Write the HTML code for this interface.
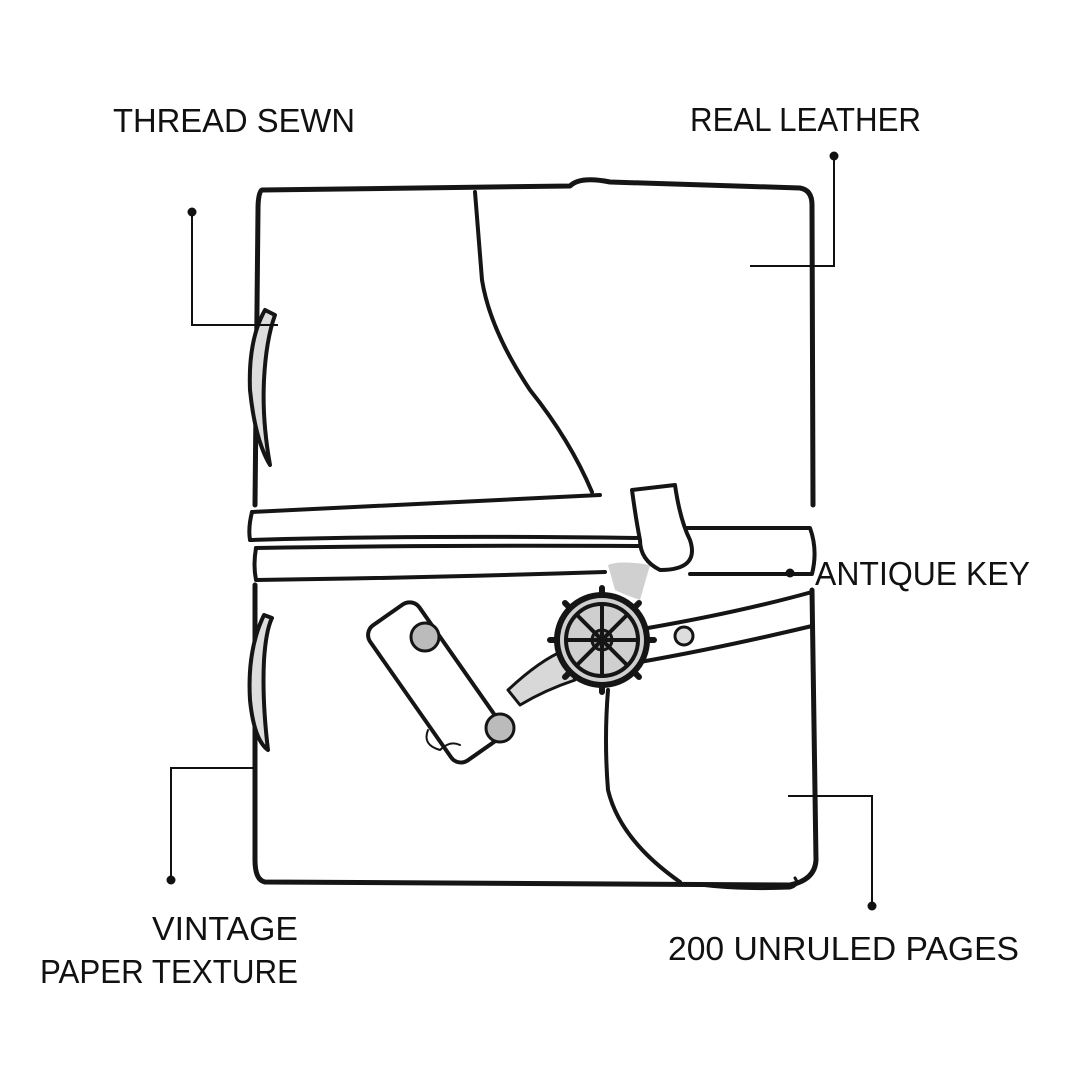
<!DOCTYPE html>
<html><head><meta charset="utf-8"><style>
html,body{margin:0;padding:0;background:#fff}
svg{display:block}
text{font-family:"Liberation Sans",sans-serif;font-size:33px;fill:#111}
</style></head><body>
<svg width="1080" height="1080" viewBox="0 0 1080 1080">
<rect width="1080" height="1080" fill="#fff"/>
<g fill="none" stroke="#151515" stroke-linecap="round" stroke-linejoin="round">
<!-- book body -->
<path d="M255 505 L258 210 Q258 192 262 190 L570 186 Q580 176 610 182 L800 188 Q812 190 812 205 L813 505" stroke-width="5"/>
<path d="M812 590 L816 860 Q815 880 790 885 L265 882 Q255 880 255 860 L255 585" stroke-width="5"/>
<path d="M700 885 Q740 890 790 888 Q800 885 795 878" stroke-width="3"/>
<!-- flap -->
<path d="M475 192 Q478 230 482 280 Q490 330 530 390 Q570 440 592 492" stroke-width="4"/>
<path d="M608 690 Q604 740 608 790 Q620 840 680 882" stroke-width="4"/>
<!-- shadow under loop -->
<path d="M608 565 Q620 560 650 565 L640 600 Q625 595 615 590 Z" fill="#d0d0d0" stroke="none"/>
<!-- strap band 1 -->
<path d="M252 512 Q420 504 600 495" stroke-width="4"/>
<path d="M252 512 Q248 528 250 540 Q420 535 640 538" stroke-width="4"/>
<!-- strap band 2 -->
<path d="M256 548 Q420 545 640 546" stroke-width="4"/>
<path d="M256 548 Q253 565 256 580 Q420 578 605 572" stroke-width="4"/>
<!-- right combined band -->
<path d="M660 528 L810 528 Q818 550 812 574 L690 574" stroke-width="4"/>
<!-- loop -->
<path d="M632 490 L675 485 Q680 520 690 540 Q700 570 660 570 Q640 560 640 540 Q636 520 632 490 Z" stroke-width="4" fill="#fff"/>
<!-- lower strap -->
<path d="M812 592 Q740 612 648 628" stroke-width="4"/>
<path d="M640 662 Q720 648 812 626 L812 592" stroke-width="4"/>
<circle cx="684" cy="636" r="9" stroke-width="3" fill="#ddd"/>
<!-- spine threads -->
<path d="M265 310 Q248 340 250 390 Q255 440 270 465 Q262 420 264 380 Q266 340 275 315 Z" stroke-width="4" fill="#ddd"/>
<path d="M264 615 Q247 650 250 700 Q254 740 268 750 Q262 700 264 660 Q266 630 272 618 Z" stroke-width="4" fill="#ddd"/>
<!-- key arm -->
<path d="M508 690 Q540 660 565 650 L575 680 Q545 690 520 705 Z" stroke-width="3" fill="#d8d8d8"/>
<!-- plate -->
<rect x="405" y="600" width="60" height="165" rx="12" transform="rotate(-35 435 682)" stroke-width="4" fill="#fff"/>
<circle cx="425" cy="637" r="14" stroke-width="3" fill="#bbb"/>
<circle cx="500" cy="728" r="14" stroke-width="3" fill="#bbb"/>
<!-- wheel -->
<circle cx="602" cy="640" r="45" stroke-width="6" fill="#cfcfcf"/>
<circle cx="602" cy="640" r="36" stroke-width="4"/>
<circle cx="602" cy="640" r="10" stroke-width="3" fill="#999"/>
<path d="M602 604 V676 M566 640 H638 M577 615 L627 665 M627 615 L577 665" stroke-width="4"/>
<path d="M602 595 V588 M602 685 V692 M557 640 H550 M647 640 H654 M570 608 L565 603 M634 608 L639 603 M570 672 L565 677 M634 672 L639 677" stroke-width="6"/>
<path d="M428 730 Q422 745 440 750 Q450 740 460 745" stroke-width="2"/>
</g>
<!-- leaders -->
<g stroke="#111" stroke-width="2" fill="none">
<path d="M192 212 V325 H278"/>
<path d="M834 156 V266 H750"/>
<path d="M790 573 H690"/>
<path d="M171 880 V768 H255"/>
<path d="M872 906 V796 H788"/>
</g>
<g fill="#111">
<circle cx="192" cy="212" r="4.5"/><circle cx="834" cy="156" r="4.5"/><circle cx="790" cy="573" r="4.5"/><circle cx="171" cy="880" r="4.5"/><circle cx="872" cy="906" r="4.5"/>
</g>
<text x="113" y="132" textLength="242" lengthAdjust="spacingAndGlyphs">THREAD SEWN</text>
<text x="690" y="131" textLength="231" lengthAdjust="spacingAndGlyphs">REAL LEATHER</text>
<text x="815" y="585" textLength="215" lengthAdjust="spacingAndGlyphs">ANTIQUE KEY</text>
<text x="152" y="940" textLength="146" lengthAdjust="spacingAndGlyphs">VINTAGE</text>
<text x="40" y="983" textLength="258" lengthAdjust="spacingAndGlyphs">PAPER TEXTURE</text>
<text x="668" y="960" textLength="351" lengthAdjust="spacingAndGlyphs">200 UNRULED PAGES</text>
</svg>
</body></html>
